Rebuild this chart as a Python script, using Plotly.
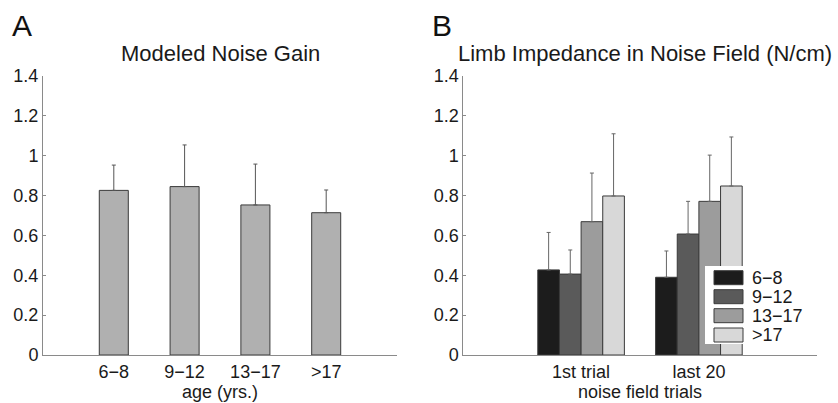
import plotly.graph_objects as go

# ---- data ----
age_groups = ["6\u22128", "9\u221212", "13\u221217", ">17"]
noise_gain = [0.826, 0.845, 0.753, 0.714]
noise_gain_err = [0.127, 0.209, 0.205, 0.114]

trial_cats = ["1st trial", "last 20"]
imp_6_8 = [0.427, 0.390]
imp_9_12 = [0.406, 0.607]
imp_13_17 = [0.669, 0.771]
imp_gt17 = [0.798, 0.848]
err_6_8 = [0.188, 0.132]
err_9_12 = [0.121, 0.164]
err_13_17 = [0.244, 0.232]
err_gt17 = [0.312, 0.246]

imp_series = [imp_6_8, imp_9_12, imp_13_17, imp_gt17]
imp_errs = [err_6_8, err_9_12, err_13_17, err_gt17]
imp_colors = ["#1c1c1c", "#5a5a5a", "#9c9c9c", "#d8d8d8"]

y_ticks = [0, 0.2, 0.4, 0.6, 0.8, 1, 1.2, 1.4]
y_ticktext = ["0", "0.2", "0.4", "0.6", "0.8", "1", "1.2", "1.4"]

W, H = 838, 403
FONT = "Liberation Sans, Arial, Helvetica, sans-serif"
TXT = "#1a1a1a"
EDGE = "#3a3a3a"

fig = go.Figure()

fig.add_trace(go.Bar(
    x=age_groups, y=noise_gain, width=0.41,
    marker=dict(color="#b0b0b0", line=dict(color=EDGE, width=1)),
    error_y=dict(type="data", array=noise_gain_err, symmetric=False,
                 arrayminus=[0] * len(noise_gain_err),
                 color="#555555", thickness=1, width=2),
    showlegend=False, xaxis="x", yaxis="y",
))

for name, vals, errs, col in zip(age_groups, imp_series, imp_errs, imp_colors):
    fig.add_trace(go.Bar(
        x=trial_cats, y=vals, name=name, showlegend=False,
        marker=dict(color=col, line=dict(color=EDGE, width=1)),
        error_y=dict(type="data", array=errs, symmetric=False,
                     arrayminus=[0] * len(errs),
                     color="#666666", thickness=1, width=2),
        xaxis="x2", yaxis="y2",
    ))


def px_x(p):
    return p / W


def px_y(p):
    return (H - p) / H


ydom = [px_y(355), px_y(76)]
axis_common = dict(
    showgrid=False, zeroline=False, showline=True, linecolor="#8a8a8a",
    linewidth=1, tickfont=dict(family=FONT, size=18, color=TXT), automargin=False,
)

annotations = [
    dict(text="A", x=px_x(10), y=px_y(25), xref="paper", yref="paper",
         xanchor="left", yanchor="middle", showarrow=False,
         font=dict(family=FONT, size=30, color="#111111")),
    dict(text="B", x=px_x(430), y=px_y(25), xref="paper", yref="paper",
         xanchor="left", yanchor="middle", showarrow=False,
         font=dict(family=FONT, size=30, color="#111111")),
    dict(text="Modeled Noise Gain", x=px_x(221), y=px_y(53), xref="paper", yref="paper",
         xanchor="center", yanchor="middle", showarrow=False,
         font=dict(family=FONT, size=22, color=TXT)),
    dict(text="Limb Impedance in Noise Field (N/cm)", x=px_x(645), y=px_y(53),
         xref="paper", yref="paper", xanchor="center", yanchor="middle",
         showarrow=False, font=dict(family=FONT, size=22, color=TXT)),
]

# custom legend (matches the wide swatches of the original)
shapes = [dict(type="rect", xref="paper", yref="paper", layer="above",
               x0=px_x(705), x1=px_x(802), y0=px_y(344), y1=px_y(266),
               fillcolor="white", line=dict(width=0))]
entry_y = [277.7, 296.7, 315.7, 335.0]
for name, col, ey in zip(age_groups, imp_colors, entry_y):
    shapes.append(dict(type="rect", xref="paper", yref="paper", layer="above",
                       x0=px_x(714), x1=px_x(743), y0=px_y(ey + 7), y1=px_y(ey - 7),
                       fillcolor=col, line=dict(color=EDGE, width=1)))
    annotations.append(dict(text=name, x=px_x(750), y=px_y(ey), xref="paper", yref="paper",
                            xanchor="left", yanchor="middle", showarrow=False,
                            font=dict(family=FONT, size=18, color=TXT)))

fig.update_layout(
    width=W, height=H,
    margin=dict(l=0, r=0, t=0, b=0),
    paper_bgcolor="white", plot_bgcolor="white",
    font=dict(family=FONT, size=18, color=TXT),
    barmode="group", bargap=0.265, bargroupgap=0,
    showlegend=False,
    xaxis=dict(domain=[px_x(43), px_x(397)], type="category",
               range=[-1, len(age_groups)], ticks="", anchor="y",
               title=dict(text="age (yrs.)", font=dict(size=18), standoff=0),
               **axis_common),
    yaxis=dict(domain=ydom, range=[0, 1.4], tickvals=y_ticks, ticktext=y_ticktext,
               ticks="inside", ticklen=3, tickcolor="#8a8a8a", anchor="x",
               **axis_common),
    xaxis2=dict(domain=[px_x(463.3), px_x(816.7)], type="category",
                range=[-1, len(trial_cats)], ticks="", anchor="y2",
                title=dict(text="noise field trials", font=dict(size=18), standoff=0),
                **axis_common),
    yaxis2=dict(domain=ydom, range=[0, 1.4], tickvals=y_ticks, ticktext=y_ticktext,
                ticks="inside", ticklen=3, tickcolor="#8a8a8a", anchor="x2",
                **axis_common),
    annotations=annotations,
    shapes=shapes,
)

fig.write_html("out.html")
